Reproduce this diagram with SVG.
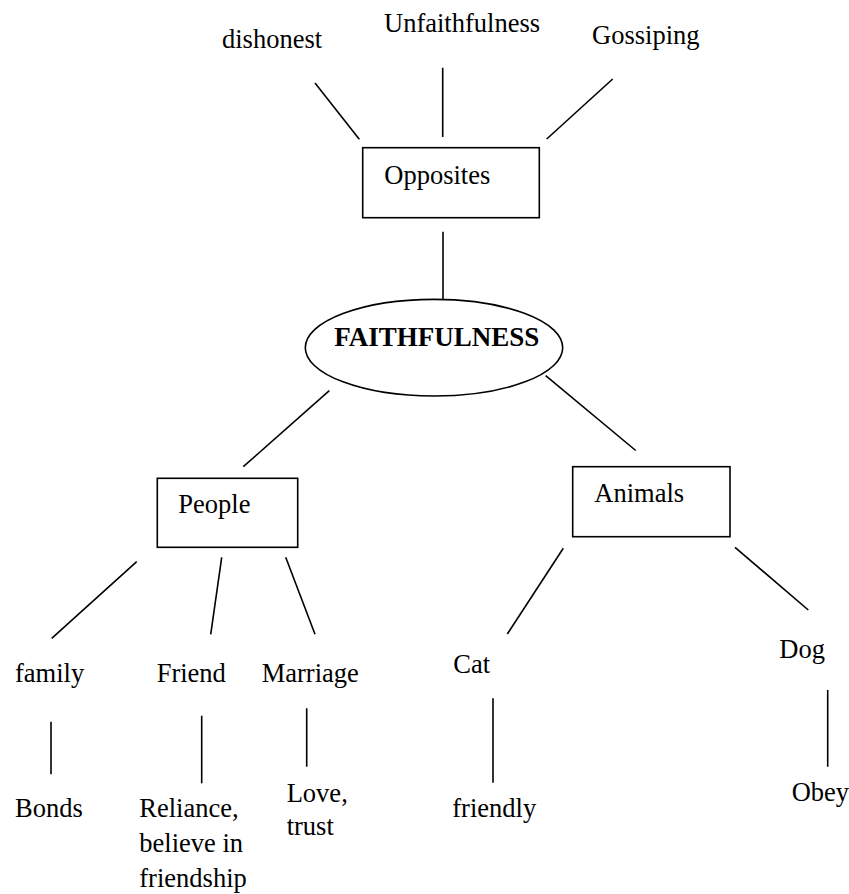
<svg xmlns="http://www.w3.org/2000/svg" width="849" height="894" viewBox="0 0 849 894">
<style>
text{font-family:"Liberation Serif","Times New Roman",serif;font-size:26.5px;fill:#000}
.b{font-weight:bold;font-size:27px}
.box{fill:#fff;stroke:#000;stroke-width:1.6}
.c line{stroke:#000;stroke-width:1.6}
</style>
<rect width="849" height="894" fill="#fff"/>
<g class="c" id="connectors">
<line x1="315" y1="83" x2="359.3" y2="139.3"/>
<line x1="442.7" y1="67.7" x2="442.7" y2="137"/>
<line x1="612.7" y1="79" x2="546.7" y2="139"/>
<line x1="443" y1="231.7" x2="443" y2="299.3"/>
<line x1="329.3" y1="390.7" x2="243.3" y2="466.7"/>
<line x1="545.7" y1="375.7" x2="635.7" y2="450.5"/>
<line x1="136.7" y1="561.7" x2="51.7" y2="638.3"/>
<line x1="221.7" y1="557.3" x2="210.7" y2="634.3"/>
<line x1="285.7" y1="557.3" x2="315" y2="634.3"/>
<line x1="51" y1="721.7" x2="51" y2="774.3"/>
<line x1="201.7" y1="715.7" x2="201.7" y2="783.3"/>
<line x1="306.7" y1="708.3" x2="306.7" y2="766.7"/>
<line x1="563.3" y1="548.3" x2="507.3" y2="634"/>
<line x1="735" y1="547.3" x2="808.3" y2="610"/>
<line x1="493" y1="698.3" x2="493" y2="782.7"/>
<line x1="827.7" y1="690" x2="827.7" y2="766.7"/>
</g>
<g id="dishonest"><text x="222" y="47.7">dishonest</text></g>
<g id="unfaithfulness"><text x="384" y="32">Unfaithfulness</text></g>
<g id="gossiping"><text x="592" y="44">Gossiping</text></g>
<g id="opposites"><rect class="box" x="362.7" y="147.7" width="176.6" height="70"/><text x="384.3" y="184.3">Opposites</text></g>
<g id="faithfulness"><ellipse class="box" cx="434" cy="347.7" rx="128.7" ry="48.3"/><text class="b" x="334.3" y="346">FAITHFULNESS</text></g>
<g id="people"><rect class="box" x="157.3" y="478.3" width="140.4" height="69"/><text x="178.3" y="513.3">People</text></g>
<g id="animals"><rect class="box" x="572.7" y="466.7" width="157.3" height="70"/><text x="594.3" y="502.3">Animals</text></g>
<g id="family"><text x="15" y="681.7">family</text></g>
<g id="friend"><text x="156.7" y="681.7">Friend</text></g>
<g id="marriage"><text x="261.7" y="681.7">Marriage</text></g>
<g id="bonds"><text x="15" y="816.7">Bonds</text></g>
<g id="reliance"><text x="139.3" y="816.7">Reliance,</text><text x="139.3" y="852.3">believe in</text><text x="139.3" y="886.7">friendship</text></g>
<g id="love"><text x="286.7" y="801.7">Love,</text><text x="286.7" y="835">trust</text></g>
<g id="cat"><text x="453.3" y="672.7">Cat</text></g>
<g id="dog"><text x="779.3" y="658.3">Dog</text></g>
<g id="friendly"><text x="452.3" y="816.7">friendly</text></g>
<g id="obey"><text x="791.7" y="801">Obey</text></g>
</svg>
